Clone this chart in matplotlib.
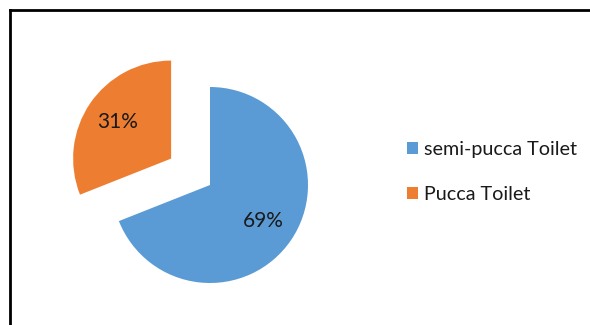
import matplotlib.pyplot as plt
from matplotlib.patches import Patch

labels = ["semi-pucca Toilet", "Pucca Toilet"]
shares = [69, 31]
colors = ["#5B9BD5", "#ED7D31"]

plt.rcParams["font.family"] = ["Lato", "DejaVu Sans"]

fig = plt.figure(figsize=(5.9, 3.25), dpi=100)
ax = fig.add_axes([0, 0, 1, 1])
ax.set_aspect("equal")
ax.axis("off")

# axes units are pixels here, so the explode offset is in pixels too
wedges, texts, autotexts = ax.pie(
    shares, colors=colors, explode=[0, 47], startangle=90, counterclock=False,
    radius=98, center=(210, 140), autopct="%d%%", pctdistance=0.66,
    textprops={"fontsize": 15, "color": "#1a1a1a"},
    wedgeprops={"linewidth": 0},
)
ax.set_xlim(0, 590)
ax.set_ylim(0, 325)

# chart frame: only top and left edges show
ax.plot([10, 10], [0, 315], color="black", lw=2, solid_capstyle="projecting")
ax.plot([10, 590], [315, 315], color="black", lw=2, solid_capstyle="projecting")

handles = [Patch(facecolor=c, edgecolor="none") for c in colors]
ax.legend(handles, labels, loc="center left", bbox_to_anchor=(389 / 590, 153 / 325),
          frameon=False, fontsize=14.2, handlelength=0.55, handleheight=0.55,
          handletextpad=0.3, labelspacing=1.4, labelcolor="#1a1a1a")

fig.savefig("out.png", dpi=100)
